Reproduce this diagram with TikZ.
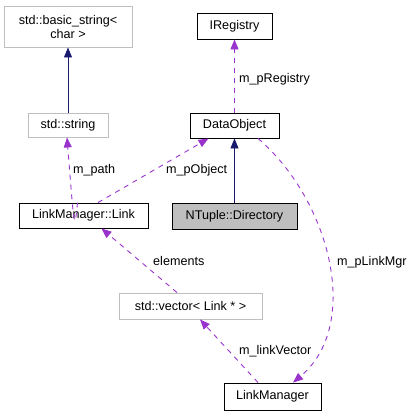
\documentclass[tikz,border=0pt]{standalone}
\usepackage{fontspec}
\setmainfont{Liberation Sans}
\usepackage{xcolor}
\usetikzlibrary{arrows.meta}

\definecolor{orchid}{HTML}{9A32CD}
\definecolor{midnight}{HTML}{191970}
\definecolor{lightgrey}{HTML}{BFBFBF}

\begin{document}
\begin{tikzpicture}[x=1pt, y=-1pt, font=\fontsize{12.6}{14}\selectfont,
    box/.style={draw=black, line width=0.9pt, inner sep=0pt, align=center},
    greybox/.style={box, draw=lightgrey},
    focusbox/.style={box, fill=lightgrey},
    inherit/.style={midnight, line width=0.9pt, -{Triangle[length=10pt,width=8pt]}},
    usage/.style={orchid, line width=0.9pt, dash pattern=on 5pt off 5pt, -{Triangle[length=10pt,width=8pt]}},
    lbl/.style={anchor=west, inner sep=0pt}]
    \useasboundingbox (0,0) rectangle (415,416);
    % classes
    \node[greybox, minimum width=128pt, minimum height=41pt] (bstr) at (68,26.5) {std::basic\_string<\\char >};
    \node[greybox, minimum width=80pt, minimum height=24pt] (str) at (68,125) {std::string};
    \node[box, minimum width=75pt, minimum height=26pt] (ireg) at (234.5,26) {IRegistry};
    \node[box, minimum width=89pt, minimum height=25pt] (dobj) at (234.5,125.5) {DataObject};
    \node[focusbox, minimum width=125pt, minimum height=26pt] (dir) at (234.5,216) {NTuple::Directory};
    \node[box, minimum width=129pt, minimum height=25pt] (link) at (83.5,215.5) {LinkManager::Link};
    \node[greybox, minimum width=143pt, minimum height=26pt] (vec) at (190.5,306) {std::vector< Link * >};
    \node[box, minimum width=97pt, minimum height=27pt] (lmgr) at (272.5,396.5) {LinkManager};
    % inheritance
    \draw[inherit] (str.north) -- (bstr.south);
    \draw[inherit] (dir.north) -- (dobj.south);
    % members
    \draw[usage] (dobj.north) -- (ireg.south);
    \node[lbl] (lreg) at (239,79) {m\_pRegistry};
    \draw[usage] ([xshift=-6pt]link.north) .. controls ([xshift=-9pt,yshift=-30pt]link.north) .. ([xshift=-1pt]str.south);
    \node[lbl] (lpath) at (73,170) {m\_path};
    \draw[usage] ([xshift=14.5pt]link.north) -- ([xshift=-26pt]dobj.south);
    \node[lbl] (lobj) at (166,170) {m\_pObject};
    \draw[usage] ([xshift=-13.5pt]vec.north) -- ([xshift=18pt]link.south);
    \node[lbl] (lelem) at (153,261) {elements};
    \draw[usage] ([xshift=-14.5pt]lmgr.north) -- ([xshift=9.5pt]vec.south);
    \node[lbl] (lvec) at (239,351) {m\_linkVector};
    \draw[usage] ([xshift=23.5pt]dobj.south) .. controls (330,200) and (362,325) .. ([xshift=20.5pt]lmgr.north);
    \node[lbl] (lmgrl) at (337,262) {m\_pLinkMgr};
\end{tikzpicture}
\end{document}
